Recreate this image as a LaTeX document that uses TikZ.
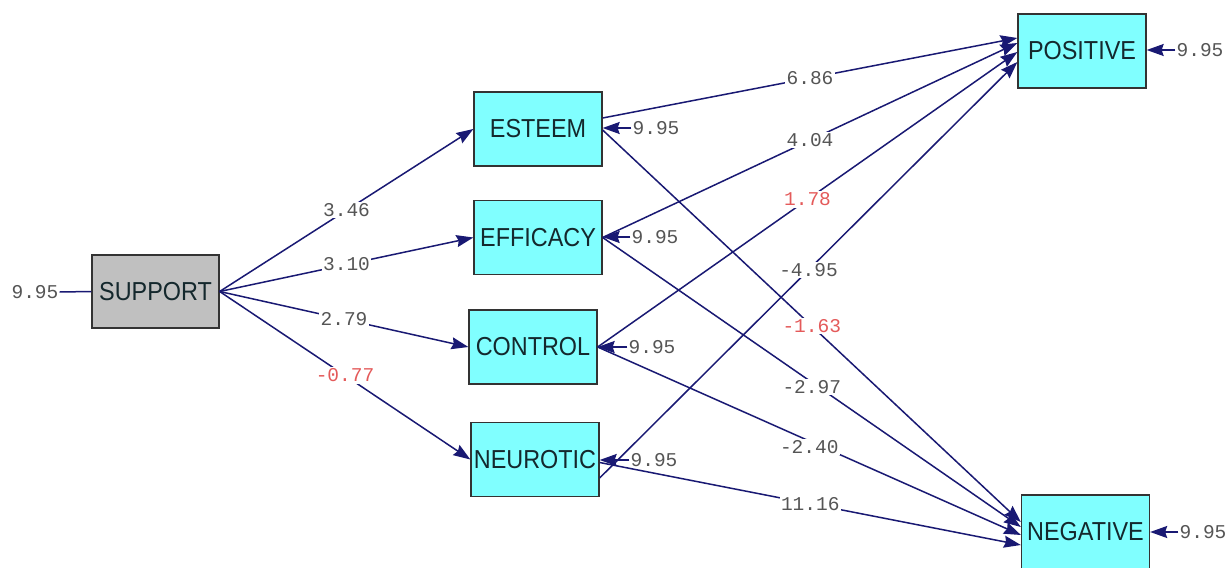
\documentclass[tikz,border=0pt]{standalone}
\usepackage{fontspec}
\usetikzlibrary{arrows.meta,calc}
\newfontfamily\boxfont{Liberation Sans}[FakeStretch=0.9]
\newfontfamily\numfont{Liberation Mono}
\definecolor{navy}{RGB}{25,25,115}
\definecolor{cyanfill}{RGB}{128,255,255}
\definecolor{grayfill}{RGB}{192,192,192}
\definecolor{numgray}{RGB}{85,85,85}
\definecolor{numred}{RGB}{228,90,90}
\definecolor{boxtext}{RGB}{20,40,45}
\begin{document}
\begin{tikzpicture}[x=1pt,y=-1pt,
  var/.style={draw=black!80, line width=1.3pt, fill=cyanfill, minimum width=128pt,
    minimum height=74pt, inner sep=0pt, text=boxtext,
    font=\boxfont\fontsize{26}{26}\selectfont},
  pth/.style={draw=navy, line width=1.5pt, -{Stealth[length=17pt,width=12pt,inset=2pt]}},
  coef/.style={fill=white, inner sep=1.5pt, text=numgray,
    font=\numfont\fontsize{19.5}{19.5}\selectfont},
  negcoef/.style={coef, text=numred},
  errlbl/.style={inner sep=1pt, text=numgray, font=\numfont\fontsize{19.5}{19.5}\selectfont}
]
\useasboundingbox[fill=white] (0,0) rectangle (1230,567);

% variables
\node[var, fill=grayfill, minimum width=127pt, minimum height=73pt] (SUPPORT) at (155.5,291.5) {SUPPORT};
\node[var] (ESTEEM)   at (538,129)   {ESTEEM};
\node[var] (EFFICACY) at (538,237.5) {EFFICACY};
\node[var] (CONTROL)  at (533,347)   {CONTROL};
\node[var] (NEUROTIC) at (535,459.5) {NEUROTIC};
\node[var] (POSITIVE) at (1082,51)   {POSITIVE};
\node[var] (NEGATIVE) at (1085.5,532) {NEGATIVE};

% error terms
\node[errlbl] (eSUP) at (35,292)   {9.95};
\node[errlbl] (eEST) at (656,128)  {9.95};
\node[errlbl] (eEFF) at (655,237)  {9.95};
\node[errlbl] (eCON) at (652,347)  {9.95};
\node[errlbl] (eNEU) at (654,460)  {9.95};
\node[errlbl] (ePOS) at (1200,50)  {9.95};
\node[errlbl] (eNEG) at (1203,532) {9.95};

\draw[draw=navy, line width=1.5pt] (eSUP.east) -- (SUPPORT.west);
\draw[pth] (eEST.west) -- (ESTEEM.east |- eEST.west);
\draw[pth] (eEFF.west) -- (EFFICACY.east |- eEFF.west);
\draw[pth] (eCON.west) -- (CONTROL.east |- eCON.west);
\draw[pth] (eNEU.west) -- (NEUROTIC.east |- eNEU.west);
\draw[pth] (ePOS.west) -- (POSITIVE.east |- ePOS.west);
\draw[pth] (eNEG.west) -- (NEGATIVE.east |- eNEG.west);

% SUPPORT paths
\draw[pth] (SUPPORT.east) -- node[coef] {3.46} (ESTEEM.west);
\draw[pth] (SUPPORT.east) -- node[coef] {3.10} (EFFICACY.west);
\draw[pth] (SUPPORT.east) -- node[coef] {2.79} (CONTROL.west);
\draw[pth] (SUPPORT.east) -- node[negcoef] {-0.77} (NEUROTIC.west);

% paths to NEGATIVE
\draw[pth] ($(ESTEEM.east)+(0,1)$) -- node[negcoef] {-1.63} ($(NEGATIVE.west)+(0,-10)$);
\draw[pth] (EFFICACY.east) -- node[coef, yshift=-5pt] {-2.97} ($(NEGATIVE.west)+(0,-5)$);
\draw[pth] (CONTROL.east) -- node[coef, yshift=-6pt] {-2.40} ($(NEGATIVE.west)+(0,3)$);
\draw[pth] ($(NEUROTIC.east)+(0,3)$) -- node[coef] {11.16} ($(NEGATIVE.west)+(0,13)$);

% paths to POSITIVE
\draw[pth] ($(ESTEEM.east)+(0,-11)$) -- node[coef] {6.86} ($(POSITIVE.west)+(0,-13)$);
\draw[pth] (EFFICACY.east) -- node[coef] {4.04} ($(POSITIVE.west)+(0,-8)$);
\draw[pth] (CONTROL.east) -- node[negcoef] {1.78} ($(POSITIVE.west)+(0,1)$);
\draw[pth] ($(NEUROTIC.east)+(0,18.5)$) -- node[coef] {-4.95} ($(POSITIVE.west)+(0,11)$);
\end{tikzpicture}
\end{document}
